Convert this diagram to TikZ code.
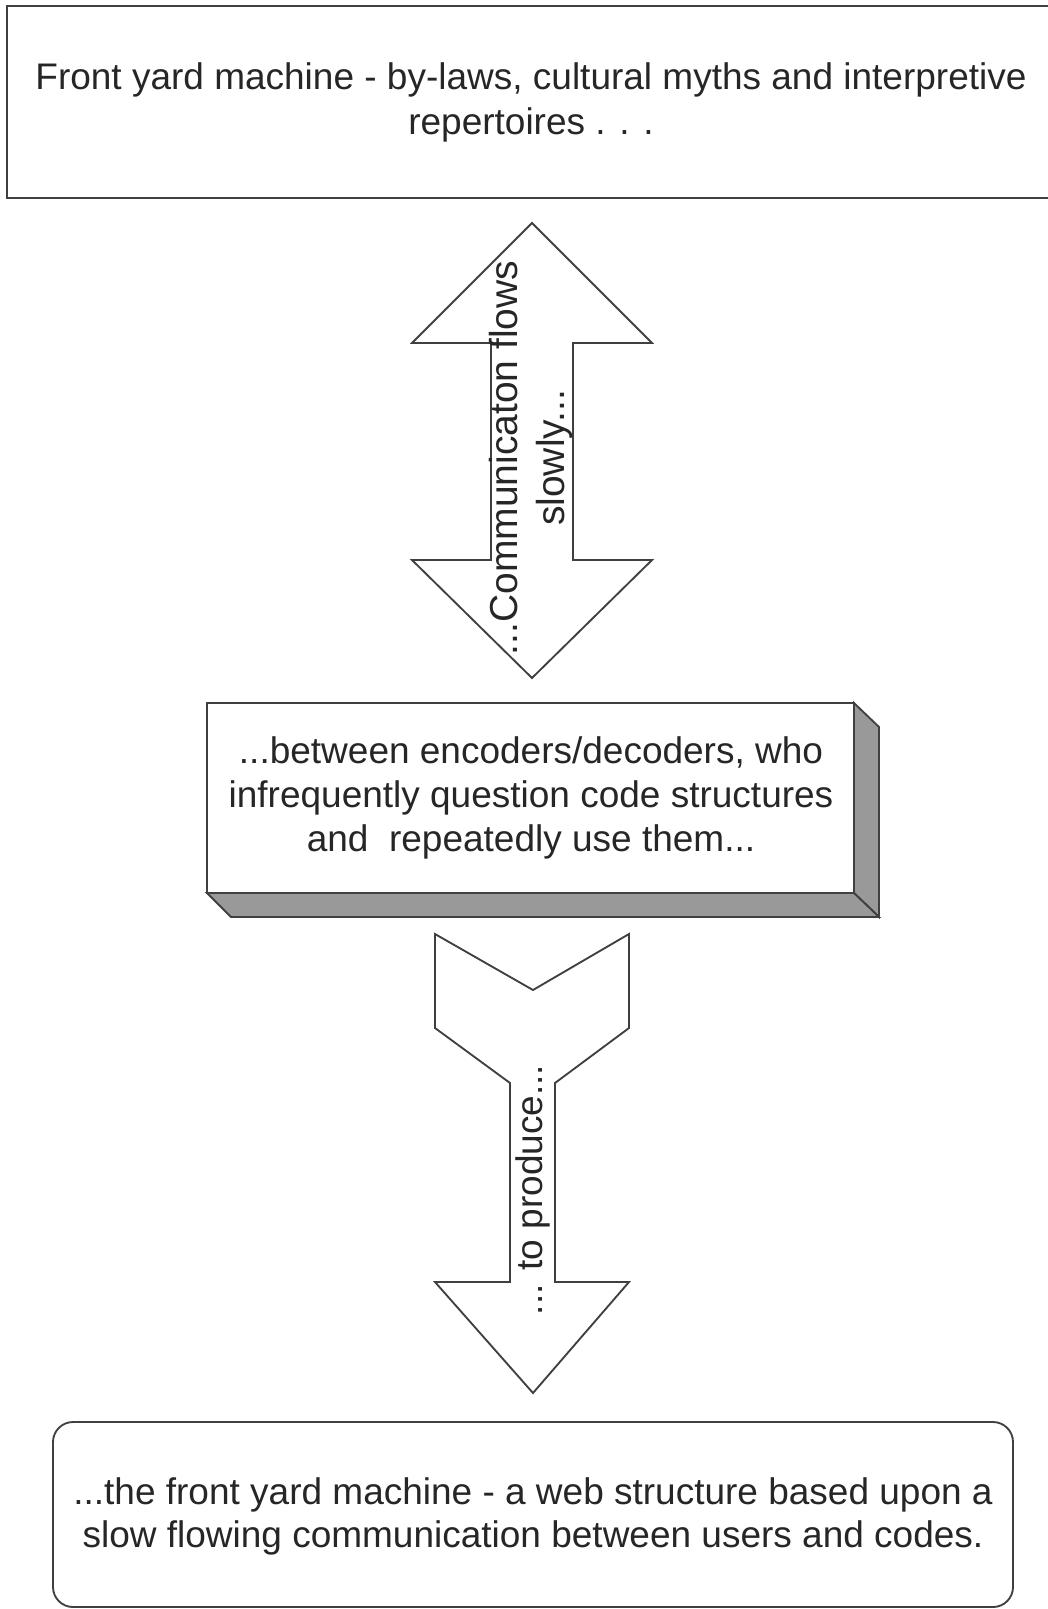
\documentclass[tikz,border=0pt]{standalone}
\usepackage{fontspec}
\setmainfont{Liberation Sans}

\begin{document}
\begin{tikzpicture}[x=0.75pt,y=-0.75pt]
    \tikzstyle{every node}=[align=center, text=black!85, font=\fontsize{27.75}{33.75}\selectfont]
    \tikzstyle{outline}=[draw=black!75, line width=1.4pt, line join=miter]
    \tikzstyle{side}=[outline, fill=black!40]

    \useasboundingbox (0,0) rectangle (1047,1609);

    % top box
    \draw[outline] (7,6) rectangle (1075,198);
    \node (machine) at (531,102) {Front yard machine - by-laws, cultural myths and interpretive\\repertoires . . .};

    % double arrow
    \draw[outline] (532,223) -- (652,343) -- (573,343) -- (573,560) -- (652,560) -- (532,678)
        -- (412,560) -- (491,560) -- (491,343) -- (412,343) -- cycle;
    \node (flows) [rotate=90, font=\fontsize{29.25}{35.25}\selectfont] at (531,458) {...Communicaton flows\\slowly...};

    % box with depth
    \draw[side] (854,703) -- (879,727) -- (879,917) -- (854,893) -- cycle;
    \draw[side] (207,893) -- (231,917) -- (879,917) -- (854,893) -- cycle;
    \draw[outline, fill=white] (207,703) rectangle (854,893);
    \node (coders) [font=\fontsize{27.75}{33}\selectfont] at (531,798) {...between encoders/decoders, who\\infrequently question code structures\\and\ \ repeatedly use them...};

    % down arrow
    \draw[outline] (435,934) -- (533,990) -- (629,934) -- (629,1028) -- (555,1083) -- (555,1282)
        -- (629,1282) -- (533,1393) -- (435,1282) -- (510,1282) -- (510,1083) -- (435,1028) -- cycle;
    \node (produce) [rotate=90] at (533,1190) {... to produce...};

    % bottom box
    \draw[outline, rounded corners=15pt] (53,1422) rectangle (1013,1607);
    \node (web) [font=\fontsize{27.75}{32.25}\selectfont] at (533,1516) {...the front yard machine - a web structure based upon a\\slow flowing communication between users and codes.};
\end{tikzpicture}
\end{document}
